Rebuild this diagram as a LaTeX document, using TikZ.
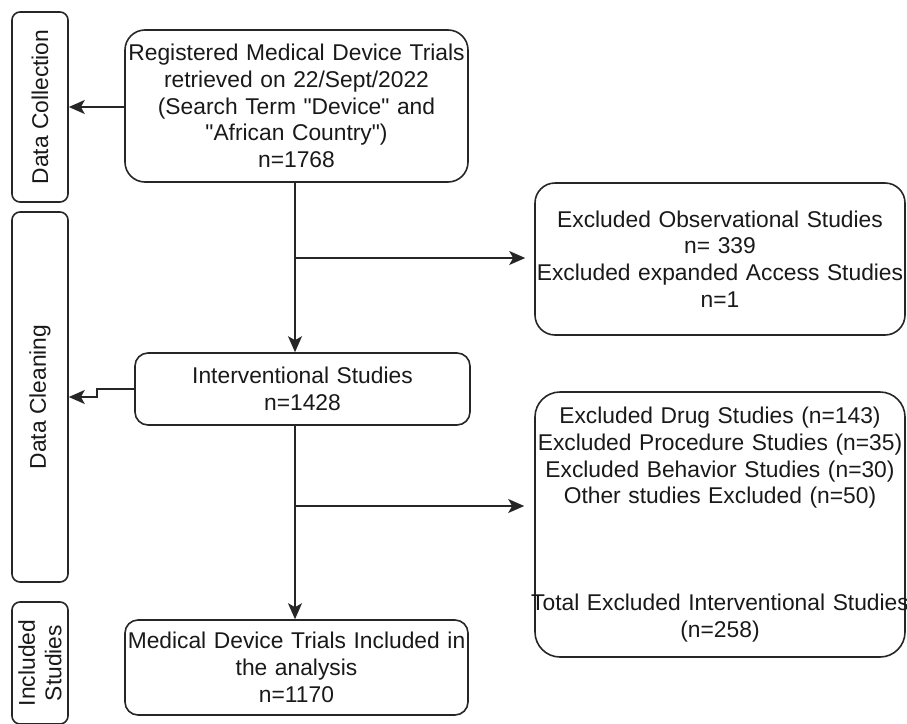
\documentclass[tikz,border=0pt]{standalone}
\usepackage{fontspec}
\setmainfont{Liberation Sans}[Ligatures=TeXOff]
\usetikzlibrary{arrows.meta}
\hyphenpenalty=10000
\exhyphenpenalty=10000
\tikzset{
  txt/.style={font=\fontsize{22.8pt}{26.7pt}\selectfont, text=black!90, align=center, inner sep=0pt},
  box/.style={draw=black!85, line width=1.6pt, inner sep=0pt, txt},
  sidebox/.style={draw=black!85, line width=1.6pt, inner sep=0pt, rounded corners=8pt, minimum width=56pt},
  arr/.style={draw=black!85, line width=1.6pt, -{Stealth[length=16pt,width=14pt,inset=4pt]}},
  line/.style={draw=black!85, line width=1.6pt}
}
\begin{document}
\begin{tikzpicture}[x=1pt,y=-1pt]
\useasboundingbox (0,0) rectangle (907,723);
\clip (0,0) rectangle (907,723);
% side boxes
\node[sidebox, minimum height=190pt] (dc) at (40,107) {};
\node[txt, rotate=90] (dcl) at (dc.center) {Data Collection};
\node[sidebox, minimum height=370pt] (dcb) at (40,397) {};
\node[txt, rotate=90] (dcbl) at (dcb.center) {Data Cleaning};
\node[sidebox, minimum height=122pt] (inc) at (40,663) {};
\node[txt, rotate=90] (incl) at (inc.center) {Included\\Studies};
% main boxes
\node[box, rounded corners=20pt, minimum width=343pt, minimum height=152pt, text width=343pt] (reg) at (296.5,106)
  {Registered Medical Device Trials\\retrieved on 22/Sept/2022\\(Search Term "Device" and\\"African Country")\\n=1768};
\node[box, rounded corners=13pt, minimum width=335pt, minimum height=72pt, text width=335pt] (int) at (302.5,389)
  {Interventional Studies\\n=1428};
\node[box, rounded corners=13pt, minimum width=343pt, minimum height=95pt, text width=343pt] (med) at (296.5,667.5)
  {Medical Device Trials Included in\\the analysis\\n=1170};
\node[box, rounded corners=20pt, minimum width=370pt, minimum height=152pt, text width=370pt] (exo) at (720,259)
  {Excluded Observational Studies\\n= 339\\Excluded expanded Access Studies\\n=1};
\node[box, rounded corners=25pt, minimum width=370pt, minimum height=265pt, text width=370pt] (drug) at (720,524.5)
  {Excluded Drug Studies (n=143)\\Excluded Procedure Studies (n=35)\\Excluded Behavior Studies (n=30)\\Other studies Excluded (n=50)\\[80pt]\makebox[370pt]{Total Excluded Interventional Studies}\\(n=258)};
% connectors
\coordinate (vx) at (295,0);
\coordinate (b1) at (295,258);
\coordinate (b2) at (295,506);
\draw[arr] (reg.west |- 0,107) -- (dc.east |- 0,107);
\draw[arr] (reg.south -| vx) -- (int.north -| vx);
\draw[arr, shorten >=9pt] (b1) -- (b1 -| exo.west);
\draw[arr] (int.west) -- ++(-37,0) -- ++(0,8) -- (dcb.east);
\draw[arr] (int.south -| vx) -- (med.north -| vx);
\draw[arr, shorten >=10pt] (b2) -- (b2 -| drug.west);
\end{tikzpicture}
\end{document}
